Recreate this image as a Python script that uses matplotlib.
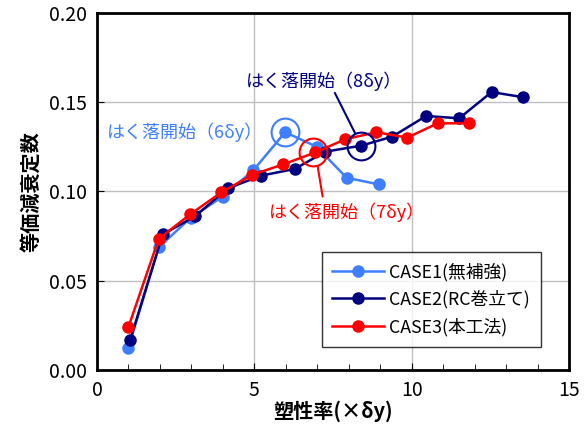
import matplotlib
matplotlib.use("Agg")
import matplotlib.pyplot as plt
from matplotlib.ticker import MultipleLocator

plt.rcParams['font.family'] = ['Liberation Sans Narrow', 'Noto Sans CJK JP', 'DejaVu Sans']

case1_x = [1.0, 1.96, 2.98, 3.99, 4.97, 5.98, 6.98, 7.93, 8.95]
case1_y = [0.0125, 0.0687, 0.0853, 0.0971, 0.1119, 0.1332, 0.1251, 0.1077, 0.1040]
case2_x = [1.05, 2.09, 3.12, 4.16, 5.22, 6.28, 7.26, 8.40, 9.38, 10.46, 11.51, 12.54, 13.55]
case2_y = [0.0166, 0.0760, 0.0861, 0.1018, 0.1089, 0.1126, 0.1223, 0.1257, 0.1307, 0.1423, 0.1410, 0.1557, 0.1528]
case3_x = [1.0, 1.96, 2.96, 3.95, 4.94, 5.92, 6.94, 7.88, 8.87, 9.86, 10.83, 11.81]
case3_y = [0.0241, 0.0734, 0.0872, 0.0995, 0.1094, 0.1152, 0.1219, 0.1292, 0.1332, 0.1302, 0.1382, 0.1382]

labels = ['CASE1(無補強)', 'CASE2(RC巻立て)', 'CASE3(本工法)']
colors = ['#3f7fff', '#000080', '#ff0000']
x_ticks = [0, 5, 10, 15]
y_ticks = [0.00, 0.05, 0.10, 0.15, 0.20]

fig = plt.figure(figsize=(5.86, 4.36), dpi=100)
ax = fig.add_axes([0.1655, 0.1514, 0.8055, 0.8188])

for xs, ys, c, lab in zip([case1_x, case2_x, case3_x], [case1_y, case2_y, case3_y], colors, labels):
    ax.plot(xs, ys, color=c, lw=1.8, marker='o', ms=8, label=lab)

# highlight circles
ax.plot(case1_x[5], case1_y[5], marker='o', ms=20, mfc='none', mec=colors[0], mew=1.5)
ax.plot(case2_x[7], case2_y[7], marker='o', ms=20, mfc='none', mec=colors[1], mew=1.5)
ax.plot(case3_x[6] - 0.08, case3_y[6], marker='o', ms=20, mfc='none', mec=colors[2], mew=1.5)

ax.set_xlim(0, 15)
ax.set_ylim(0, 0.20)
ax.set_xticks(x_ticks)
ax.set_yticks(y_ticks)
ax.xaxis.set_minor_locator(MultipleLocator(1))
ax.set_yticklabels([f'{v:.2f}' for v in y_ticks])
ax.tick_params(axis='both', which='major', direction='in', length=5, labelsize=14, pad=7)
ax.tick_params(axis='x', which='minor', direction='in', length=4)
ax.tick_params(top=False, right=False)
ax.grid(True, which='major', color='#c0c0c0', lw=1)
ax.set_axisbelow(True)
for s in ax.spines.values():
    s.set_linewidth(2)
    s.set_color('black')

ax.set_xlabel('塑性率(×δy)', fontsize=14.5, fontweight='bold', family=['Noto Sans CJK JP'], labelpad=0)
ax.set_ylabel('等価減衰定数', fontsize=14.5, fontweight='bold', family=['Noto Sans CJK JP'], labelpad=6)

jp = ['Noto Sans CJK JP']
ax.text(2.80, 0.1333, 'はく落開始（6δy）', color=colors[0], fontsize=13, ha='center', va='center', family=jp)
ax.text(7.23, 0.1618, 'はく落開始（8δy）', color=colors[1], fontsize=13, ha='center', va='center', family=jp)
ax.text(7.93, 0.0885, 'はく落開始（7δy）', color=colors[2], fontsize=13, ha='center', va='center', family=jp)
ax.annotate('', xy=(case2_x[7], case2_y[7]), xytext=(7.56, 0.1552),
            arrowprops=dict(arrowstyle='-', color=colors[1], lw=1.5, shrinkA=0, shrinkB=10))
ax.annotate('', xy=(case3_x[6], case3_y[6]), xytext=(7.17, 0.0972),
            arrowprops=dict(arrowstyle='-', color=colors[2], lw=1.5, shrinkA=0, shrinkB=10))

leg = ax.legend(loc='lower left', bbox_to_anchor=(0.476, 0.065), fontsize=12.8,
                frameon=True, fancybox=False, handlelength=2.9, handletextpad=0.3,
                labelspacing=0.5, borderpad=0.6, borderaxespad=0)
leg.get_frame().set_edgecolor('black')
leg.get_frame().set_linewidth(1.0)
for t in leg.get_texts():
    t.set_family(['Liberation Sans Narrow', 'Noto Sans CJK JP'])

fig.savefig('out.png', dpi=100)
